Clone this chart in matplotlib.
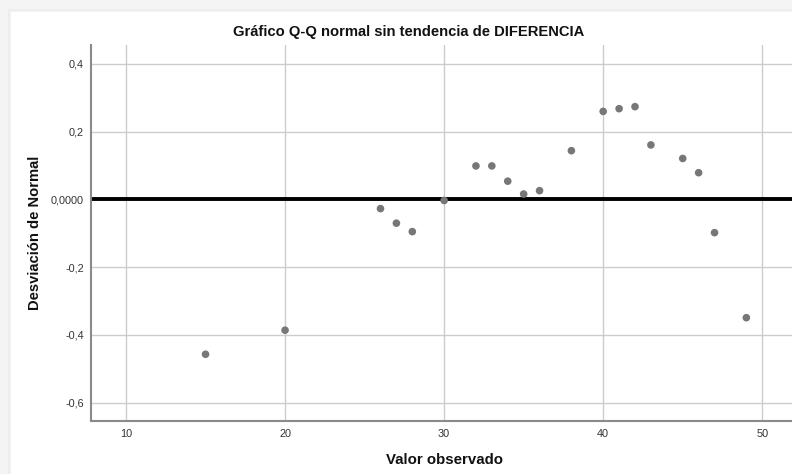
import matplotlib
matplotlib.use("Agg")
import matplotlib.pyplot as plt
from matplotlib.patches import Rectangle

plt.rcParams['font.family'] = ['Liberation Sans', 'DejaVu Sans']

# Detrended normal Q-Q data for DIFERENCIA
observed = [15, 20, 26, 27, 28, 30, 32, 33, 34, 35, 36, 38, 40, 41, 42, 43, 45, 46, 47, 49]
deviation = [-0.457, -0.386, -0.027, -0.070, -0.095, -0.003, 0.099, 0.099, 0.054, 0.016,
             0.026, 0.144, 0.260, 0.268, 0.274, 0.161, 0.121, 0.079, -0.098, -0.349]

x_ticks = [10, 20, 30, 40, 50]
x_tick_labels = ["10", "20", "30", "40", "50"]
y_ticks = [0.4, 0.2, 0.0, -0.2, -0.4, -0.6]
y_tick_labels = ["0,4", "0,2", "0,0000", "-0,2", "-0,4", "-0,6"]

W, H = 792, 474
fig = plt.figure(figsize=(W / 100, H / 100), dpi=100)
fig.patch.set_facecolor("#f4f4f4")

# white card with a soft edge
for i, c in enumerate(["#ececec", "#efefef", "#f2f2f2"]):
    fig.patches.append(Rectangle(((11 - 3 + i) / W, 0), 1, (H - 12 + 3 - i) / H,
                                 transform=fig.transFigure, facecolor=c,
                                 edgecolor="none", zorder=-2))
fig.patches.append(Rectangle((11 / W, 0), 1, (H - 12) / H, transform=fig.transFigure,
                             facecolor="white", edgecolor="none", zorder=-1))

ax_left, ax_right, ax_top, ax_bottom = 91, 792, 45, 421
ax = fig.add_axes([ax_left / W, (H - ax_bottom) / H,
                   (ax_right - ax_left) / W, (ax_bottom - ax_top) / H])
ax.set_zorder(2)
ax.set_facecolor("white")

ax.set_xlim(7.8, 51.87)
ax.set_ylim(-0.654, 0.456)

ax.set_xticks(x_ticks)
ax.set_xticklabels(x_tick_labels)
ax.set_yticks(y_ticks)
ax.set_yticklabels(y_tick_labels)
ax.tick_params(length=0, labelsize=7.8, colors="#333333", pad=5)
ax.tick_params(axis="x", pad=6)

ax.grid(True, color="#cccccc", linewidth=1.0)
ax.set_axisbelow(True)

for side in ["top", "right"]:
    ax.spines[side].set_visible(False)
for side in ["left", "bottom"]:
    ax.spines[side].set_color("#8a8a8a")
    ax.spines[side].set_linewidth(1.5)

ax.axhline(0, color="black", linewidth=2.8, zorder=2)

ax.scatter(observed, deviation, s=30, color="#777777", edgecolors="none", zorder=3)

fig.text(409 / W, 1 - 32 / H, "Gráfico Q-Q normal sin tendencia de DIFERENCIA",
         ha="center", va="center", fontsize=10.6, fontweight="bold", color="#111111")
fig.text(445 / W, 1 - 460 / H, "Valor observado", ha="center", va="center",
         fontsize=10.8, fontweight="bold", color="#111111")
fig.text(35 / W, 1 - 233 / H, "Desviación de Normal", ha="center", va="center",
         rotation=90, fontsize=10.6, fontweight="bold", color="#111111")

fig.savefig("out.png", dpi=100, facecolor=fig.get_facecolor())
